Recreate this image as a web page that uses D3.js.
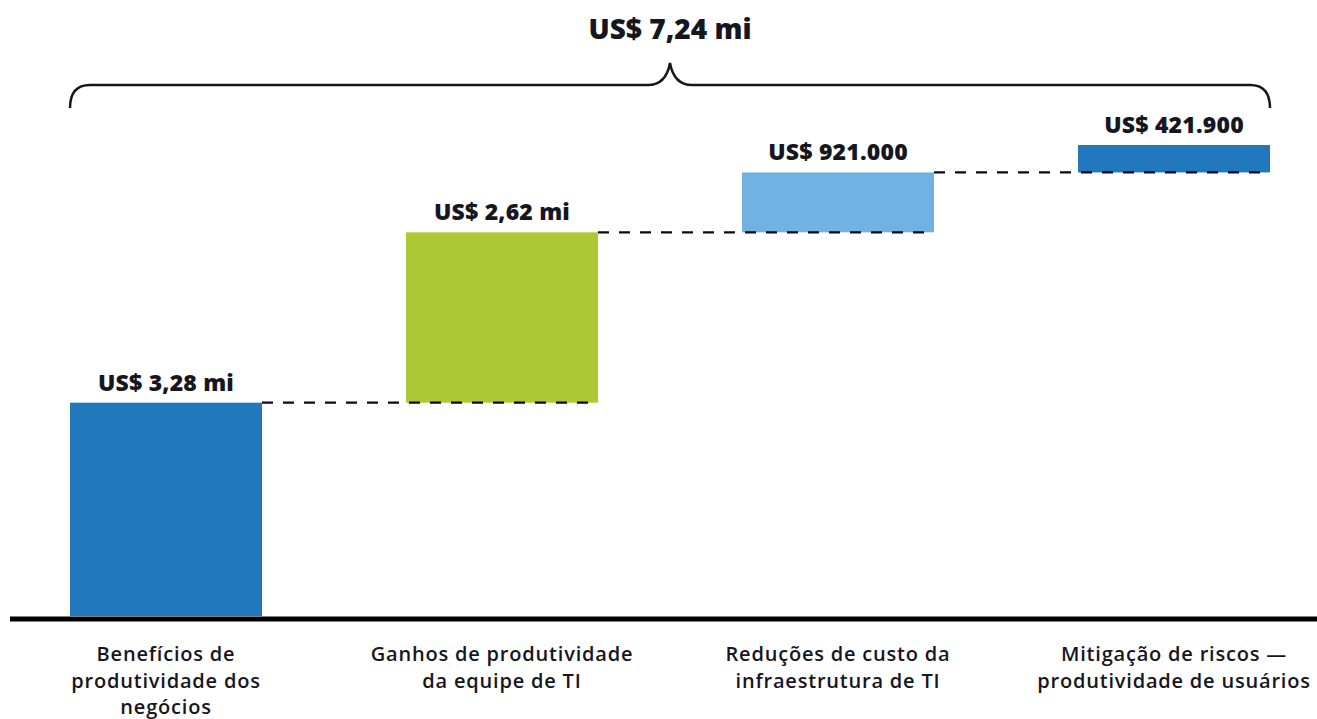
<!DOCTYPE html>
<html>
<head>
<meta charset="utf-8">
<script src="https://cdn.jsdelivr.net/npm/d3@7"></script>
<style>
  body { margin: 0; background: #fff; }
  svg { font-family: "Open Sans", Lato, sans-serif; }
</style>
</head>
<body>
<div id="chart"></div>
<script>
// data
var categories = [
  ["Benefícios de", "produtividade dos", "negócios"],
  ["Ganhos de produtividade", "da equipe de TI"],
  ["Reduções de custo da", "infraestrutura de TI"],
  ["Mitigação de riscos —", "produtividade de usuários"]
];
var values = [3.28, 2.62, 0.921, 0.4219];
var valueLabels = ["US$ 3,28 mi", "US$ 2,62 mi", "US$ 921.000", "US$ 421.900"];
var colors = ["#2278bd", "#adc933", "#70b3e2", "#2278bd"];
var totalLabel = "US$ 7,24 mi";

var width = 1317, height = 719;
var textColor = "#16161f";

var svg = d3.select("#chart").append("svg")
  .attr("width", width)
  .attr("height", height);

var total = d3.sum(values);

var x = d3.scaleBand()
  .domain(d3.range(values.length))
  .range([70, 1270])
  .paddingInner(0.4286)
  .paddingOuter(0);

var y = d3.scaleLinear()
  .domain([0, total])
  .range([616, 145]);

// cumulative starts
var data = [];
var acc = 0;
values.forEach(function (v, i) {
  data.push({ i: i, start: acc, end: acc + v, value: v });
  acc += v;
});

// bars
svg.selectAll("rect.bar")
  .data(data)
  .enter()
  .append("rect")
  .attr("class", "bar")
  .attr("x", function (d) { return x(d.i); })
  .attr("y", function (d) { return y(d.end); })
  .attr("width", x.bandwidth())
  .attr("height", function (d) { return y(d.start) - y(d.end); })
  .attr("fill", function (d) { return colors[d.i]; });

// dashed connectors
svg.selectAll("line.conn")
  .data(data.slice(0, data.length - 1))
  .enter()
  .append("line")
  .attr("class", "conn")
  .attr("x1", function (d) { return x(d.i) + x.bandwidth(); })
  .attr("x2", function (d) { return x(d.i + 1) + x.bandwidth(); })
  .attr("y1", function (d) { return y(d.end); })
  .attr("y2", function (d) { return y(d.end); })
  .attr("stroke", "#0a0a14")
  .attr("stroke-width", 2.2)
  .attr("stroke-dasharray", "11,10");

// value labels
svg.selectAll("text.val")
  .data(data)
  .enter()
  .append("text")
  .attr("class", "val")
  .attr("x", function (d) { return x(d.i) + x.bandwidth() / 2; })
  .attr("y", function (d) { return y(d.end) - 12; })
  .attr("text-anchor", "middle")
  .attr("font-size", 23)
  .attr("font-weight", 800)
  .attr("letter-spacing", 0.2)
  .attr("fill", textColor)
  .text(function (d) { return valueLabels[d.i]; });

// baseline
svg.append("line")
  .attr("x1", 10)
  .attr("x2", width)
  .attr("y1", y(0) + 3)
  .attr("y2", y(0) + 3)
  .attr("stroke", "#000")
  .attr("stroke-width", 5);

// category labels
var cat = svg.selectAll("text.cat")
  .data(categories)
  .enter()
  .append("text")
  .attr("class", "cat")
  .attr("text-anchor", "middle")
  .attr("font-size", 20)
  .attr("font-weight", 600)
  .attr("letter-spacing", 0.8)
  .attr("fill", textColor)
  .attr("transform", function (d, i) {
    return "translate(" + (x(i) + x.bandwidth() / 2) + ",661)";
  });

cat.selectAll("tspan")
  .data(function (d) { return d; })
  .enter()
  .append("tspan")
  .attr("x", 0)
  .attr("y", function (d, j) { return j * 26.5; })
  .text(function (d) { return d; });

// brace over all bars
var bx0 = x(0), bx1 = x(values.length - 1) + x.bandwidth();
var bmid = (bx0 + bx1) / 2;
var by = 85, r = 20, bEnd = 108, tip = 63;
var brace = d3.path();
brace.moveTo(bx0, bEnd);
brace.quadraticCurveTo(bx0, by, bx0 + r, by);
brace.lineTo(bmid - 22, by);
brace.quadraticCurveTo(bmid - 4, by, bmid, tip);
brace.quadraticCurveTo(bmid + 4, by, bmid + 22, by);
brace.lineTo(bx1 - r, by);
brace.quadraticCurveTo(bx1, by, bx1, bEnd);

svg.append("path")
  .attr("d", brace.toString())
  .attr("fill", "none")
  .attr("stroke", textColor)
  .attr("stroke-width", 2.5);

svg.append("text")
  .attr("x", bmid)
  .attr("y", 39)
  .attr("text-anchor", "middle")
  .attr("font-size", 28)
  .attr("font-weight", 800)
  .attr("fill", textColor)
  .text(totalLabel);
</script>
</body>
</html>
